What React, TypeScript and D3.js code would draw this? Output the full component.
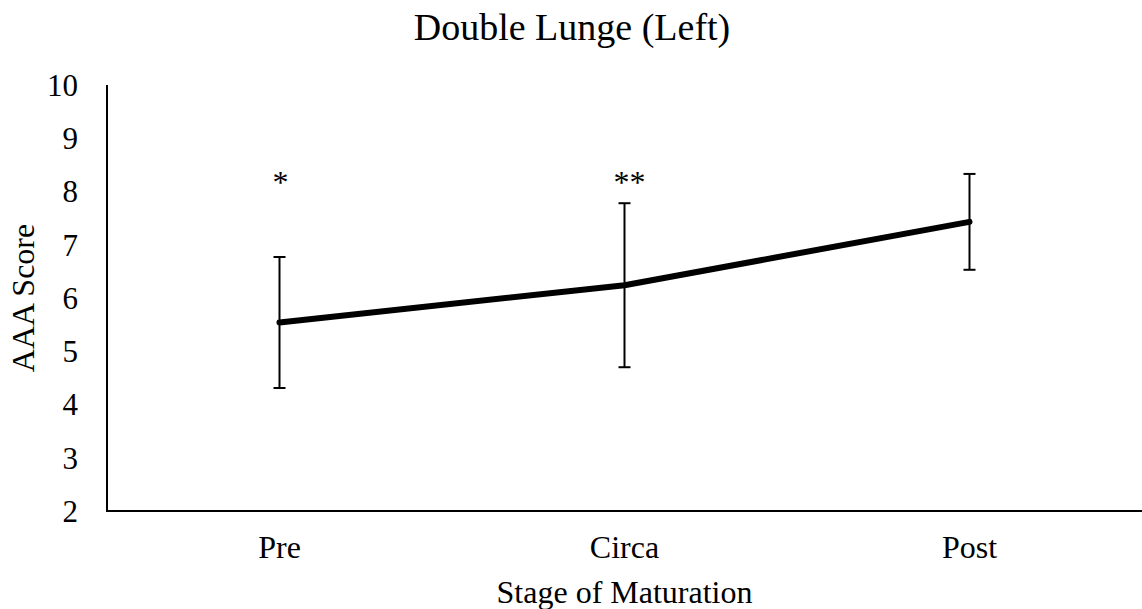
import React from "react";
import * as d3 from "d3";

const categories = ["Pre", "Circa", "Post"];
const means = [5.54, 6.24, 7.43];
const errors = [1.23, 1.54, 0.9];
const annotations = ["*", "**", ""];
const yTicks = [2, 3, 4, 5, 6, 7, 8, 9, 10];

const W = 1142;
const H = 609;
const FONT = "'Liberation Serif', 'Times New Roman', serif";

export default function App() {
  const left = 107;
  const right = 1142;
  const top = 85;
  const bottom = 511;
  const x = d3.scaleBand<string>().domain(categories).range([left, right]);
  const cx = (c: string) => (x(c) as number) + x.bandwidth() / 2;
  const y = d3.scaleLinear().domain([2, 10]).range([bottom, top]);
  const pts = categories.map((c, i) => [cx(c), y(means[i])] as [number, number]);
  const line = d3.line()(pts) as string;

  return (
    <svg
      width={W}
      height={H}
      style={{ position: "absolute", left: 0, top: 0, background: "#fff" }}
      fontFamily={FONT}
    >
      <rect width={W} height={H} fill="#fff" />
      <text x={572} y={40} textAnchor="middle" fontSize={38} fill="#000">
        Double Lunge (Left)
      </text>
      {/* axes */}
      <line x1={left} x2={left} y1={top} y2={bottom} stroke="#000" strokeWidth={2} />
      <line x1={left - 1} x2={right} y1={bottom} y2={bottom} stroke="#000" strokeWidth={2} />
      {yTicks.map((t) => (
        <text key={t} x={78} y={y(t)} dy="0.35em" textAnchor="end" fontSize={31} fill="#000">
          {t}
        </text>
      ))}
      {categories.map((c) => (
        <text key={c} x={cx(c)} y={558} textAnchor="middle" fontSize={32} fill="#000">
          {c}
        </text>
      ))}
      <text x={(left + right) / 2} y={603} textAnchor="middle" fontSize={32} fill="#000">
        Stage of Maturation
      </text>
      <text
        transform={`translate(34,${(top + bottom) / 2}) rotate(-90)`}
        textAnchor="middle"
        fontSize={32}
        fill="#000"
      >
        AAA Score
      </text>
      {/* error bars */}
      {categories.map((c, i) => {
        const xc = cx(c);
        const y1 = y(means[i] + errors[i]);
        const y0 = y(means[i] - errors[i]);
        return (
          <g key={c} stroke="#000" strokeWidth={2}>
            <line x1={xc} x2={xc} y1={y1} y2={y0} />
            <line x1={xc - 6} x2={xc + 6} y1={y1} y2={y1} />
            <line x1={xc - 6} x2={xc + 6} y1={y0} y2={y0} />
          </g>
        );
      })}
      <path d={line} fill="none" stroke="#000" strokeWidth={6} strokeLinecap="round" strokeLinejoin="round" />
      {categories.map((c, i) =>
        annotations[i] ? (
          <text key={c} x={cx(c) + (annotations[i].length > 1 ? 5 : 1)} y={193} textAnchor="middle" fontSize={32} fill="#000">
            {annotations[i]}
          </text>
        ) : null
      )}
    </svg>
  );
}
